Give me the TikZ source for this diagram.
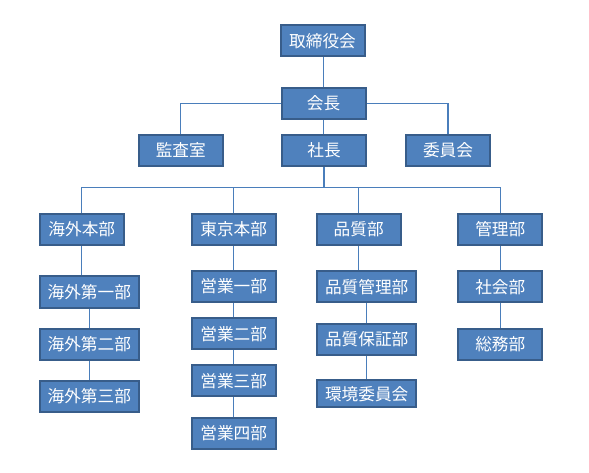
\documentclass[tikz,border=0pt]{standalone}
\usepackage{fontspec}
\newfontfamily\jpfont{Noto Sans CJK JP}
\definecolor{boxfill}{HTML}{4F81BD}
\definecolor{boxline}{HTML}{385D8A}
\definecolor{linkline}{HTML}{4A7EBB}

\begin{document}
\begin{tikzpicture}[x=0.75pt,y=-0.75pt,
    box/.style={draw=boxline,fill=boxfill,line width=1.5pt,text=white,
      minimum width=63pt,minimum height=23.5pt,inner sep=0pt,
      font=\jpfont\fontsize{12.5pt}{14pt}\selectfont},
    widebox/.style={box,minimum width=74.5pt},
    link/.style={draw=linkline,line width=0.8pt}]
            \useasboundingbox (0,0) rectangle (589,472);

            % Top
            \node[box] (board) at (322.5,40.8) {取締役会};
            \node[box] (chair) at (323.5,103.5) {会長};
            \node[box] (audit) at (180.8,150.3) {監査室};
            \node[box] (pres) at (324,150.3) {社長};
            \node[box] (comm) at (448,150.3) {委員会};

            % Divisions
            \node[box] (overseas) at (81.8,229.2) {海外本部};
            \node[box] (tokyo) at (233.7,229.2) {東京本部};
            \node[box] (quality) at (358.7,229.2) {品質部};
            \node[box] (admin) at (500.3,229.2) {管理部};

            % Overseas
            \node[widebox] (ovs1) at (89.3,292) {海外第一部};
            \node[widebox] (ovs2) at (89.3,344.5) {海外第二部};
            \node[widebox] (ovs3) at (89.3,396.5) {海外第三部};

            % Tokyo sales
            \node[box] (sales1) at (233.7,286.5) {営業一部};
            \node[box] (sales2) at (233.7,333.7) {営業二部};
            \node[box] (sales3) at (233.7,380.7) {営業三部};
            \node[box] (sales4) at (233.7,433.2) {営業四部};

            % Quality
            \node[widebox] (qctrl) at (366.7,286.7) {品質管理部};
            \node[widebox] (qassur) at (366.7,339.2) {品質保証部};
            \node[widebox,minimum height=20.5pt] (envcomm) at (366.7,393.8) {環境委員会};

            % Admin
            \node[box] (social) at (500.3,286.8) {社会部};
            \node[box] (general) at (500.3,344.5) {総務部};

            % Links at the top
            \draw[link] (chair.north |- board.south) -- (chair);
            \draw[link] (chair.west) -| (audit);
            \draw[link] (chair.east) -| (comm);
            \draw[link] (chair) -- (chair.south |- pres.north);

            % Bus under the president
            \coordinate (bus) at (324,187.3);
            \draw[link] (pres) -- (bus);
            \draw[link] (bus) -| (overseas);
            \draw[link] (bus) -| (tokyo);
            \draw[link] (bus) -| (quality);
            \draw[link] (bus) -| (admin);

            % Links inside the divisions
            \draw[link] (overseas.south) -- (overseas.south |- ovs1.north);
            \draw[link] (ovs1) -- (ovs2);
            \draw[link] (ovs2) -- (ovs3);
            \draw[link] (tokyo) -- (sales1);
            \draw[link] (sales1) -- (sales2);
            \draw[link] (sales2) -- (sales3);
            \draw[link] (sales3) -- (sales4);
            \draw[link] (quality.south) -- (quality.south |- qctrl.north);
            \draw[link] (qctrl) -- (qassur);
            \draw[link] (qassur) -- (envcomm);
            \draw[link] (admin) -- (social);
            \draw[link] (social) -- (general);
        \end{tikzpicture}
\end{document}
